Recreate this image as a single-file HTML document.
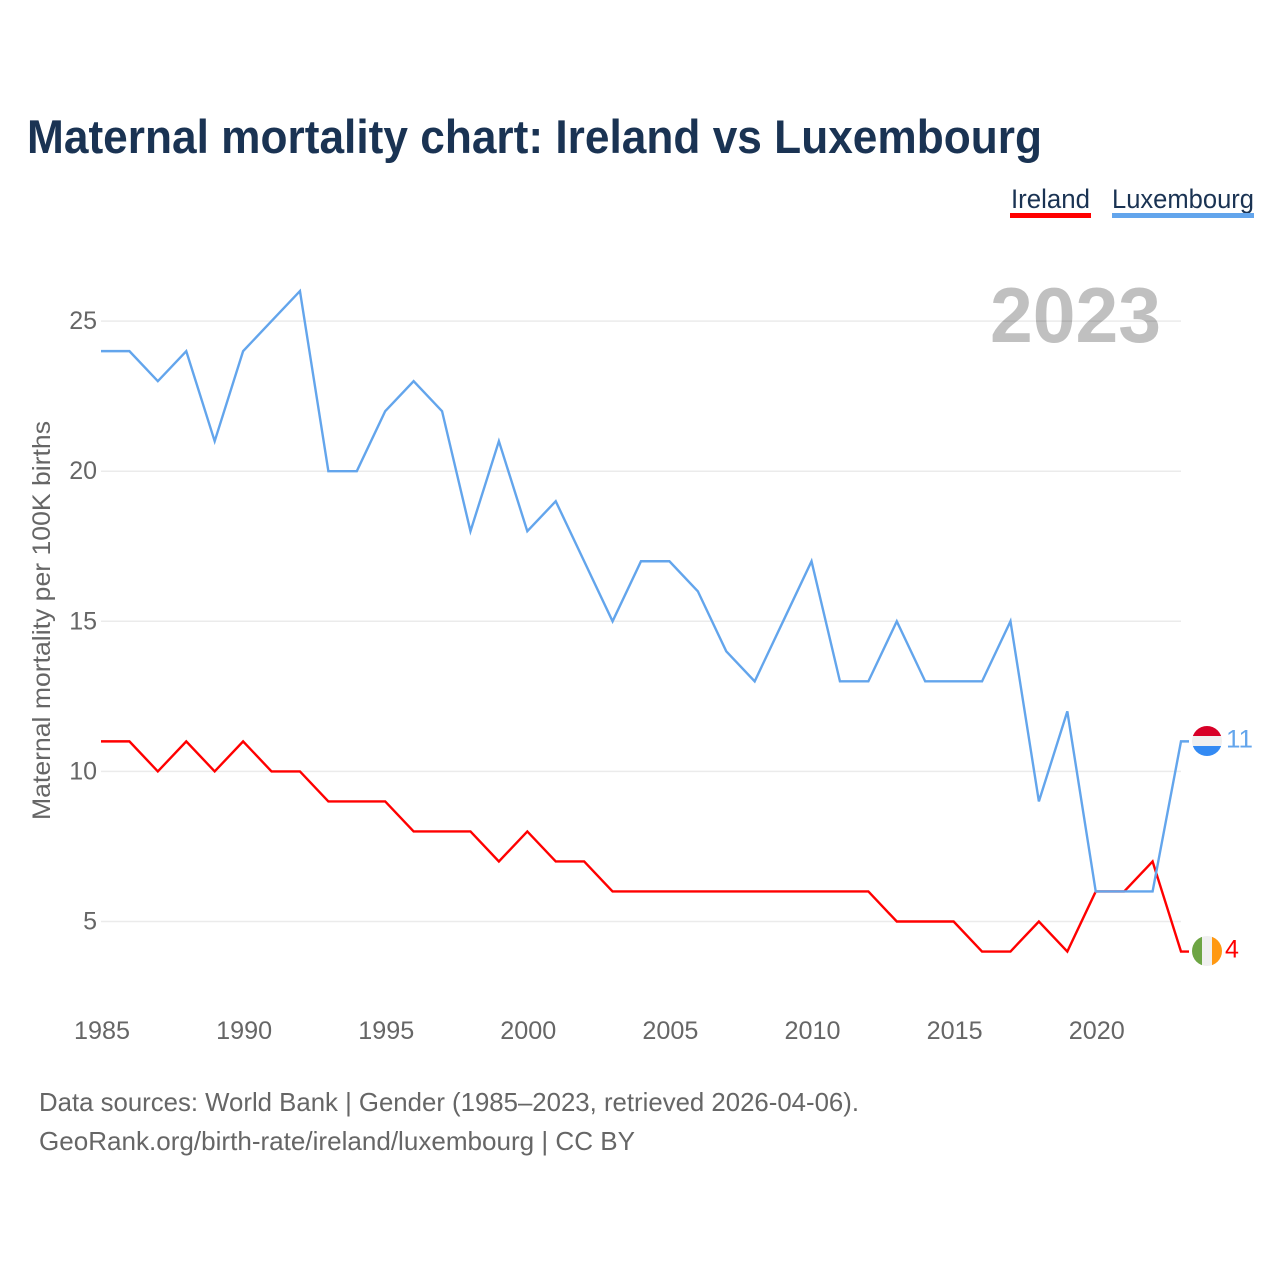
<!DOCTYPE html>
<html>
<head>
<meta charset="utf-8">
<title>Maternal mortality chart: Ireland vs Luxembourg</title>
<style>
html,body{margin:0;padding:0;background:#fff;width:1280px;height:1280px;overflow:hidden}
svg{display:block;font-family:"Liberation Sans",sans-serif}
</style>
</head>
<body>
<svg id="chart" xmlns="http://www.w3.org/2000/svg" width="1280" height="1280" viewBox="0 0 1280 1280">
  <text x="27" y="153" font-size="47" font-weight="700" fill="#1a3353" textLength="1015" lengthAdjust="spacingAndGlyphs">Maternal mortality chart: Ireland vs Luxembourg</text>
  <g>
    <text x="1011" y="208" font-size="27" fill="#1a3353" textLength="79" lengthAdjust="spacingAndGlyphs">Ireland</text>
    <rect x="1010" y="213" width="81" height="5" fill="#ff0000"/>
  </g>
  <g>
    <text x="1112" y="208" font-size="27" fill="#1a3353" textLength="142" lengthAdjust="spacingAndGlyphs">Luxembourg</text>
    <rect x="1112" y="213" width="142" height="5" fill="#63a5ec"/>
  </g>
  <text x="990" y="342" font-size="78" font-weight="700" fill="#c0c0c0" textLength="171" lengthAdjust="spacingAndGlyphs">2023</text>
  <g id="grid"></g>
  <g id="yticks"></g>
  <g id="xticks"></g>
  <text transform="translate(50,620.5) rotate(-90)" text-anchor="middle" font-size="25" fill="#666666" textLength="399" lengthAdjust="spacingAndGlyphs">Maternal mortality per 100K births</text>
  <g id="series"></g>
  <defs>
    <clipPath id="clip-lux"><circle cx="1207" cy="741" r="15"/></clipPath>
    <clipPath id="clip-irl"><circle cx="1207" cy="951" r="15"/></clipPath>
  </defs>
  <g clip-path="url(#clip-lux)">
    <rect x="1192" y="726" width="30" height="10" fill="#d80027"/>
    <rect x="1192" y="736" width="30" height="10" fill="#f0f0f0"/>
    <rect x="1192" y="746" width="30" height="10" fill="#338af3"/>
  </g>
  <g clip-path="url(#clip-irl)">
    <rect x="1192" y="936" width="10" height="30" fill="#6da544"/>
    <rect x="1202" y="936" width="10" height="30" fill="#f0f0f0"/>
    <rect x="1212" y="936" width="10" height="30" fill="#ff9811"/>
  </g>
  <g id="end-labels"></g>
  <text x="39" y="1111" font-size="26" fill="#666666" textLength="820" lengthAdjust="spacingAndGlyphs">Data sources: World Bank | Gender (1985–2023, retrieved 2026-04-06).</text>
  <text x="39" y="1150" font-size="26" fill="#666666" textLength="596" lengthAdjust="spacingAndGlyphs">GeoRank.org/birth-rate/ireland/luxembourg | CC BY</text>
</svg>
<script>
const years = [1985,1986,1987,1988,1989,1990,1991,1992,1993,1994,1995,1996,1997,1998,1999,2000,2001,2002,2003,2004,2005,2006,2007,2008,2009,2010,2011,2012,2013,2014,2015,2016,2017,2018,2019,2020,2021,2022,2023];
const ireland = [11,11,10,11,10,11,10,10,9,9,9,8,8,8,7,8,7,7,6,6,6,6,6,6,6,6,6,6,5,5,5,4,4,5,4,6,6,7,4];
const luxembourg = [24,24,23,24,21,24,25,26,20,20,22,23,22,18,21,18,19,17,15,17,17,16,14,13,15,17,13,13,15,13,13,13,15,9,12,6,6,6,11];
const yTickValues = [5,10,15,20,25];
const xTickValues = [1985,1990,1995,2000,2005,2010,2015,2020];

const NS = 'http://www.w3.org/2000/svg';
function xScale(year){ return 101 + (year - 1985) * (1080 / 38); }
function yScale(value){ return 921.5 - (value - 5) * 30.02; }
function make(tag, attrs, parent){
  const el = document.createElementNS(NS, tag);
  for (const k in attrs) el.setAttribute(k, attrs[k]);
  parent.appendChild(el);
  return el;
}

const gridGroup = document.getElementById('grid');
const yTickGroup = document.getElementById('yticks');
yTickValues.forEach(function(v){
  const line = make('line', {x1:101, x2:1181, y1:yScale(v), y2:yScale(v), stroke:'#000', 'stroke-opacity':0.08, 'stroke-width':1.5}, gridGroup);
  
  
  const label = make('text', {x:97, y:yScale(v) + 8, 'text-anchor':'end', 'font-size':25, fill:'#666666'}, yTickGroup);
  
  
  label.textContent = String(v);
});

const xTickGroup = document.getElementById('xticks');
xTickValues.forEach(function(year){
  const label = make('text', {x:xScale(year) + 1, y:1039, 'text-anchor':'middle', 'font-size':25, fill:'#666666', textLength:56, lengthAdjust:'spacingAndGlyphs'}, xTickGroup);
  
  
  label.textContent = String(year);
});

const seriesGroup = document.getElementById('series');
function drawSeries(values, color){
  const pts = values.map(function(v, i){ return xScale(years[i]).toFixed(2) + ',' + yScale(v).toFixed(2); });
  const lastY = yScale(values[values.length - 1]);
  pts.push('1189,' + lastY.toFixed(2));
  return make('polyline', {points:pts.join(' '), fill:'none', stroke:color, 'stroke-width':2.4, 'stroke-linejoin':'miter'}, seriesGroup);
}
const irelandLine = drawSeries(ireland, '#ff0000');


const luxembourgLine = drawSeries(luxembourg, '#63a5ec');



const endGroup = document.getElementById('end-labels');
const luxEnd = make('text', {x:1226, y:yScale(luxembourg[luxembourg.length - 1]) + 6, 'font-size':25, fill:'#63a5ec', textLength:27, lengthAdjust:'spacingAndGlyphs'}, endGroup);


luxEnd.textContent = String(luxembourg[luxembourg.length - 1]);
const irlEnd = make('text', {x:1225, y:yScale(ireland[ireland.length - 1]) + 6, 'font-size':25, fill:'#ff0000'}, endGroup);


irlEnd.textContent = String(ireland[ireland.length - 1]);
</script>
</body>
</html>
